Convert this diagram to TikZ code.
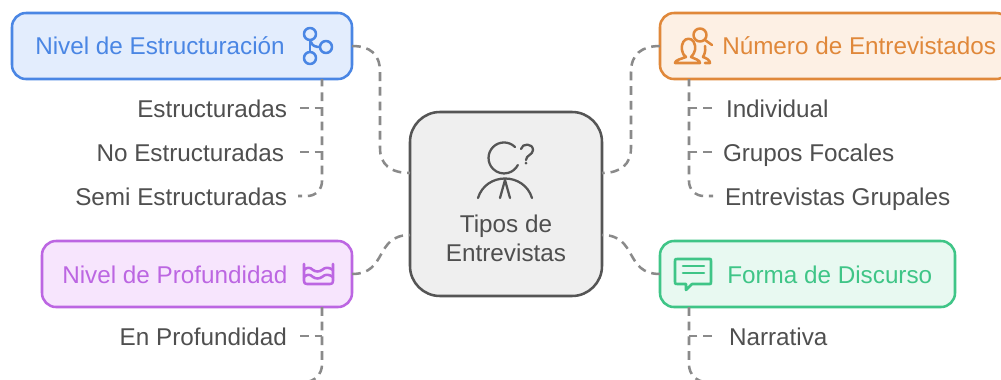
\documentclass[tikz,border=0pt]{standalone}
\usepackage{fontspec}
\setmainfont{Liberation Sans}
\definecolor{bluS}{HTML}{4A86E4}\definecolor{bluF}{HTML}{E3EDFD}
\definecolor{oraS}{HTML}{E0883A}\definecolor{oraF}{HTML}{FDF0E4}
\definecolor{purS}{HTML}{BC66E2}\definecolor{purF}{HTML}{F7E5FD}
\definecolor{greS}{HTML}{3FC587}\definecolor{greF}{HTML}{E8F9F1}
\definecolor{cenS}{HTML}{555555}\definecolor{cenF}{HTML}{EFEFEF}
\definecolor{txtC}{HTML}{4F4F4F}\definecolor{conC}{HTML}{8A8A8A}
\tikzset{
  x=0.75pt,y=-0.75pt,
  boxnode/.style={draw,line width=1.9pt,rounded corners=10.5pt,inner sep=0pt,outer sep=0pt},
  titletxt/.style={inner sep=0pt,font=\fontsize{18.2}{21}\selectfont},
  itemtxt/.style={text=txtC,font=\fontsize{18.2}{21}\selectfont,text height=16pt,text depth=2.5pt,inner ysep=0pt,outer sep=0pt},
  itemL/.style={itemtxt,anchor=base east},
  itemR/.style={itemtxt,anchor=base west},
  conn/.style={draw=conC,line width=1.9pt,dash pattern=on 6.6pt off 4.4pt},
  icon/.style={line width=1.9pt,line cap=round,line join=round},
}
\begin{document}
\begin{tikzpicture}
\clip (0,0) rectangle (1001,379);
\fill[white] (0,0) rectangle (1001,379);
% connector guides
\coordinate (bx) at (322,0);
\coordinate (ox) at (689,0);
\coordinate (cl1) at (0,173);
\coordinate (cl2) at (0,235);
% items
\node[itemL,inner xsep=9.75pt] (e1) at (300,117) {Estructuradas};
\node[itemL,inner xsep=12pt] (e2) at (300,161) {No Estructuradas};
\node[itemL,inner xsep=8.25pt] (e3) at (298,205) {Semi Estructuradas};
\node[itemR,inner xsep=10.5pt] (n1) at (712,117) {Individual};
\node[itemR,inner xsep=8.25pt] (n2) at (712,161) {Grupos Focales};
\node[itemR,inner xsep=9pt] (n3) at (713,205) {Entrevistas Grupales};
\node[itemL,inner xsep=9.75pt] (p1) at (300,345) {En Profundidad};
\node[itemR,inner xsep=12.75pt] (f1) at (712,345) {Narrativa};
\coordinate (pend) at (296,382);
\coordinate (fend) at (716,382);
% boxes
\node[boxnode,draw=bluS,fill=bluF,minimum width=255pt,minimum height=49.5pt] (blue) at (182,46) {};
\node[boxnode,draw=oraS,fill=oraF,minimum width=262.5pt,minimum height=49.5pt] (orange) at (835,46) {};
\node[boxnode,draw=purS,fill=purF,minimum width=232.5pt,minimum height=49.5pt] (purple) at (197,274) {};
\node[boxnode,draw=greS,fill=greF,minimum width=221.25pt,minimum height=49.5pt] (green) at (807.5,274) {};
\node[boxnode,draw=cenS,fill=cenF,rounded corners=22.5pt,minimum width=144pt,minimum height=138pt] (center) at (506,204) {};
% trunks and branches
\draw[conn,dash phase=1pt,rounded corners=11pt] (blue.south -| bx) |- (e3.east);
\draw[conn] (e1.east) -- (e1.east -| bx);
\draw[conn] (e2.east) -- (e2.east -| bx);
\draw[conn,dash phase=1pt,rounded corners=11pt] (orange.south -| ox) |- (n3.west);
\draw[conn] (n1.west) -- (n1.west -| ox);
\draw[conn] (n2.west) -- (n2.west -| ox);
\draw[conn,rounded corners=13pt] (purple.south -| bx) |- (pend);
\draw[conn] (p1.east) -- (p1.east -| bx);
\draw[conn,rounded corners=13pt] (green.south -| ox) |- (fend);
\draw[conn] (f1.west) -- (f1.west -| ox);
% main connectors
\draw[conn] (blue.east) .. controls (370,46) and (380,54) .. (380,72) -- (380,148) .. controls (380,164) and (390,173) .. (center.west |- cl1);
\draw[conn] (orange.west) .. controls (642,46) and (631,54) .. (631,72) -- (631,148) .. controls (631,164) and (621,173) .. (center.east |- cl1);
\draw[conn] (purple.east) .. controls (388,274) and (374,235) .. (center.west |- cl2);
\draw[conn] (green.west) .. controls (624,274) and (638,235) .. (center.east |- cl2);
% titles
\node[titletxt,text=bluS,anchor=base west] (tb) at (35,54) {Nivel de Estructuración};
\node[titletxt,text=oraS,anchor=base west] (to) at (722,54) {Número de Entrevistados};
\node[titletxt,text=purS,anchor=base west] (tp) at (62,283) {Nivel de Profundidad};
\node[titletxt,text=greS,anchor=base west] (tg) at (727,283) {Forma de Discurso};
\node[titletxt,text=txtC,anchor=base] (t1) at (506,232) {Tipos de};
\node[titletxt,text=txtC,anchor=base] (t2) at (506,261) {Entrevistas};
% icon blue
\begin{scope}[icon,draw=bluS]
\draw (310,34) circle (6);
\draw (310,58) circle (6);
\draw (326,47) circle (6);
\draw (310,40) -- (310,52);
\draw (311,42) .. controls (312,46) and (316,47) .. (320,47);
\end{scope}
% icon orange
\begin{scope}[icon,draw=oraS]
\draw (700,35) circle (6.5);
\draw (705,40) -- (712,45);
\draw (682,50) .. controls (680,35) and (697,35) .. (695,50) .. controls (694,54) and (692,56) .. (691,57) .. controls (695,59) and (700,60) .. (700,63) -- (675,63) .. controls (675,60) and (681,59) .. (686,57) .. controls (684,56) and (683,54) .. (682,50) -- cycle;
\draw (705,46) .. controls (706,52) and (704,55) .. (703,57) .. controls (706,58) and (710,60) .. (710,63) -- (705,63);
\end{scope}
% icon purple
\begin{scope}[icon,draw=purS]
\draw (304,264) -- (304,281) .. controls (304,283) and (305,284) .. (307,284) -- (330,284) .. controls (332,284) and (333,283) .. (333,281) -- (333,264);
\draw (304,270) .. controls (307,267) and (310,267) .. (313,270) .. controls (316,272) and (319,272) .. (322,270) .. controls (325,267) and (329,267) .. (333,270);
\draw (304,277) .. controls (307,274) and (310,274) .. (313,277) .. controls (316,279) and (319,279) .. (322,277) .. controls (325,274) and (329,274) .. (333,277);
\end{scope}
% icon green
\begin{scope}[icon,draw=greS]
\draw (677,259) -- (710,259) .. controls (711,259) and (711,259) .. (711,261) -- (711,282) .. controls (711,284) and (711,284) .. (710,284) -- (692,284) -- (686,290) -- (686,284) -- (677,284) .. controls (675,284) and (675,284) .. (675,282) -- (675,261) .. controls (675,259) and (675,259) .. (677,259) -- cycle;
\draw (683,266) -- (704,266);
\draw (683,273) -- (704,273);
\end{scope}
% icon centre
\begin{scope}[icon,draw=cenS,line width=1.7pt]
\draw (515,147) arc (-45:-333:15.5);
\draw (521,149) .. controls (522,143) and (533,143) .. (533,150) .. controls (533,155) and (526,155) .. (526,160);
\fill[cenS] (526,163) circle (1.5);
\draw (478,198) .. controls (486,172) and (524,172) .. (532,198);
\draw (505,180) -- (500,198);
\draw (505,180) -- (510,198);
\end{scope}
\end{tikzpicture}
\end{document}
